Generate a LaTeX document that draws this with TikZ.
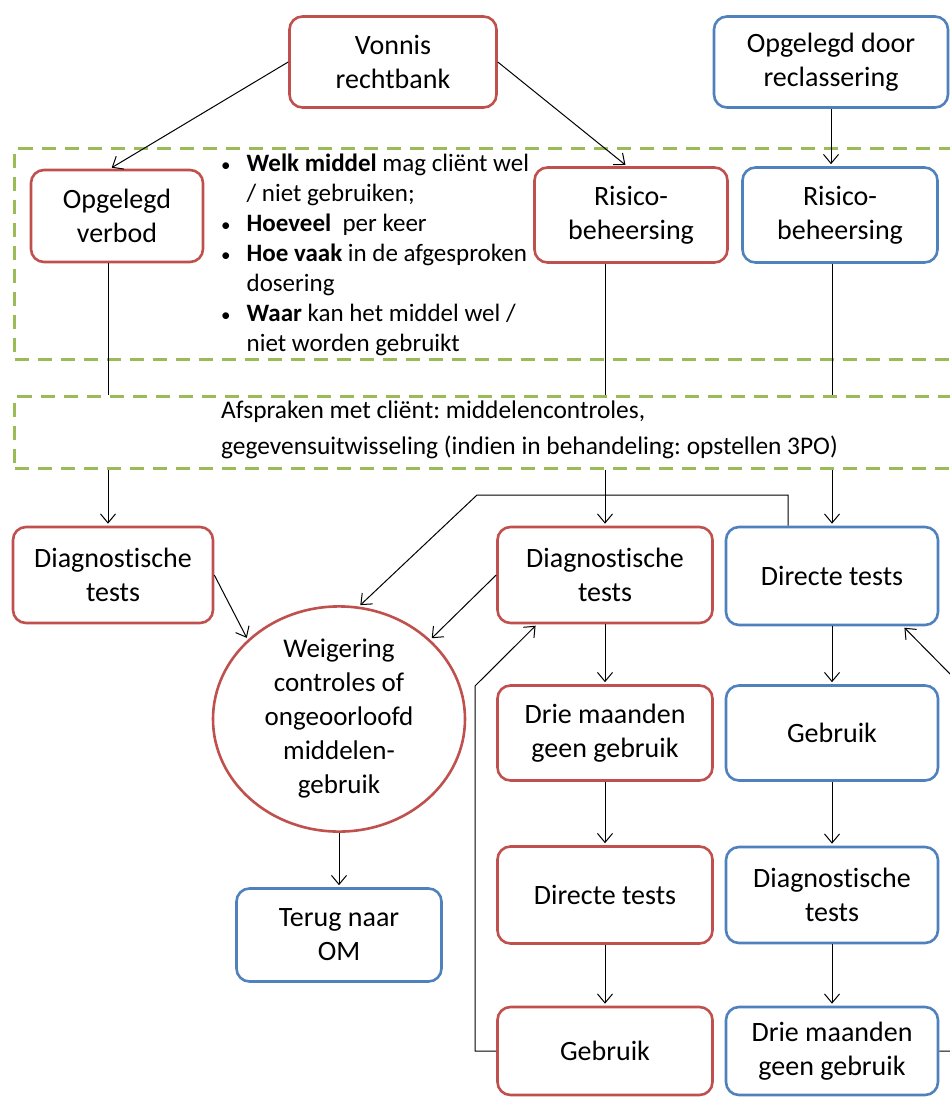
\documentclass[tikz,border=0pt]{standalone}
\usepackage{fontspec}
\setmainfont{Carlito}[Ligatures=NoCommon]
\usetikzlibrary{arrows.meta, positioning, shapes}

\definecolor{boxred}{HTML}{C0504D}
\definecolor{boxblue}{HTML}{4F81BD}
\definecolor{dashgreen}{HTML}{9BBB59}

\newcommand{\regelpunt}{{\fontsize{19}{19}\selectfont\textbullet}}

\begin{document}
\frenchspacing
\begin{tikzpicture}[
    x=1pt, y=-1pt,
    flow box/.style={rounded corners=13pt, line width=2.6pt, fill=white, align=center, inner sep=0pt, font=\fontsize{28}{34}\selectfont},
    red box/.style={flow box, draw=boxred},
    blue box/.style={flow box, draw=boxblue},
    frame box/.style={draw=dashgreen, line width=3pt, dash pattern=on 14pt off 9pt, anchor=north west, inner sep=0pt},
    conn arrow/.style={-{Straight Barb[length=9pt, width=15pt]}, line width=1pt, shorten >=2pt},
    plain line/.style={line width=1pt}
]
        \fill[white] (0,0) rectangle (950,1098);
        \useasboundingbox (0,0) rectangle (950,1098);

        % dashed frames
        \node[frame box, minimum width=950, minimum height=211] (regels) at (13,147) {};
        \node[frame box, minimum width=950, minimum height=72] (afspraken) at (13,395) {};

        \node[red box, minimum width=207, minimum height=91] (vonnis) at (393,62) {Vonnis\\rechtbank};
        \node[blue box, minimum width=234, minimum height=91] (recl) at (831,62) {Opgelegd door\\reclassering};
        \node[red box, minimum width=172, minimum height=92] (verbod) at (117,216) {Opgelegd\\verbod};
        \node[red box, minimum width=193, minimum height=95] (risicoR) at (631,215) {Risico-\\beheersing};
        \node[blue box, minimum width=195, minimum height=95] (risicoB) at (840,215) {Risico-\\beheersing};

        \node[anchor=north west, inner sep=0pt, font=\fontsize{25}{30}\selectfont] (regelstekst) at (221,150) {%
            \begin{tabular}{@{}l@{\hspace{16pt}}l@{}}
            \regelpunt & \textbf{Welk middel} mag cliënt wel\\
                       & / niet gebruiken;\\
            \regelpunt & \textbf{Hoeveel}\ \ per keer\\
            \regelpunt & \textbf{Hoe vaak} in de afgesproken\\
                       & dosering\\
            \regelpunt & \textbf{Waar} kan het middel wel /\\
                       & niet worden gebruikt
            \end{tabular}};

        \node[anchor=west, align=left, inner sep=0pt, font=\fontsize{25.4}{36}\selectfont] (afsprakentekst) at (221,430) {Afspraken met cliënt: middelencontroles,\\gegevensuitwisseling (indien in behandeling: opstellen 3PO)};

        \node[red box, minimum width=200, minimum height=96] (diagL) at (113,575) {Diagnostische\\tests};
        \node[red box, minimum width=215, minimum height=96] (diagM) at (605,575) {Diagnostische\\tests};
        \node[blue box, minimum width=212, minimum height=98] (directB) at (832,576) {Directe tests};
        \node[ellipse, draw=boxred, line width=2.6pt, fill=white, minimum width=252, minimum height=212, inner sep=0pt, align=center, font=\fontsize{27}{34}\selectfont] (weigering) at (339,719) {Weigering\\controles of\\ongeoorloofd\\middelen-\\gebruik};
        \node[blue box, minimum width=205, minimum height=93] (terug) at (339,935) {Terug naar\\OM};
        \node[red box, minimum width=215, minimum height=95] (drieR) at (605,733) {Drie maanden\\geen gebruik};
        \node[blue box, minimum width=212, minimum height=95] (gebruikB) at (832,733) {Gebruik};
        \node[red box, minimum width=215, minimum height=97] (directR) at (605,895) {Directe tests};
        \node[blue box, minimum width=212, minimum height=96] (diagB) at (832,895) {Diagnostische\\tests};
        \node[red box, minimum width=215, minimum height=88] (gebruikR) at (605,1051) {Gebruik};
        \node[blue box, minimum width=212, minimum height=88] (drieB) at (832,1051) {Drie maanden\\geen gebruik};

        % top connectors
        \draw[conn arrow] (vonnis.west) -- ([xshift=-7pt]verbod.north);
        \draw[conn arrow] (vonnis.east) -- ([xshift=-4pt]risicoR.north);
        \draw[conn arrow] (recl.south) -- (recl.south |- risicoB.north);

        \draw[plain line] ([xshift=-9pt]verbod.south) -- ([xshift=-9pt]verbod.south |- afspraken.north);
        \draw[conn arrow] ([xshift=-9pt]verbod.south |- afspraken.south) -- ([xshift=-9pt]verbod.south |- diagL.north);
        \draw[plain line] (diagM.north |- risicoR.south) -- (diagM.north |- afspraken.north);
        \draw[conn arrow] (diagM.north |- afspraken.south) -- (diagM.north);
        \draw[plain line] (directB.north |- risicoB.south) -- (directB.north |- afspraken.north);
        \draw[conn arrow] (directB.north |- afspraken.south) -- (directB.north);

        % into the ellipse
        \draw[conn arrow] ([xshift=-44pt]directB.north) |- (477,495) -- (weigering.80);
        \draw[conn arrow] (diagL.east) -- (weigering.139);
        \draw[conn arrow] (diagM.west) -- (weigering.41);
        \draw[conn arrow] (weigering.south) -- (terug.north);

        % columns
        \draw[conn arrow] (diagM.south) -- (drieR.north);
        \draw[conn arrow] (drieR.south) -- (directR.north);
        \draw[conn arrow] (directR.south) -- (gebruikR.north);
        \draw[conn arrow] (directB.south) -- (gebruikB.north);
        \draw[conn arrow] (gebruikB.south) -- (diagB.north);
        \draw[conn arrow] (diagB.south) -- (drieB.north);

        % loops back
        \draw[conn arrow] (gebruikR.west) -| (475,686) -- ([xshift=-68pt]diagM.south);
        \draw[conn arrow] (drieB.east) -| (956,680) -- ([xshift=71pt]directB.south);
    \end{tikzpicture}
\end{document}
